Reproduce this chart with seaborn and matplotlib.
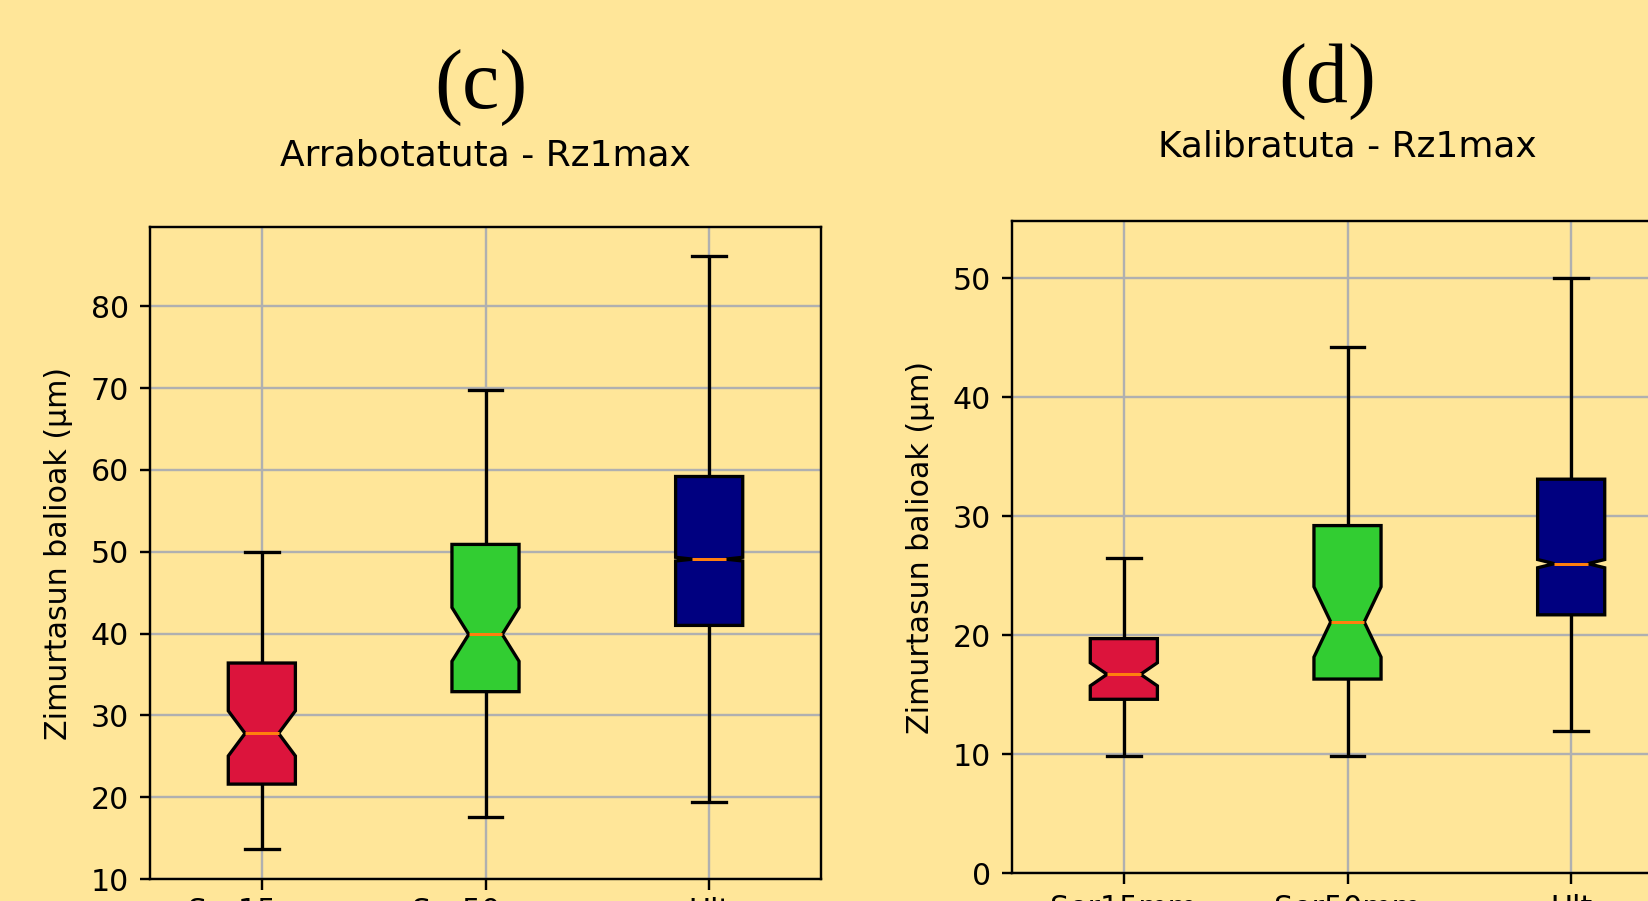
"""
Notched box plots of Rz1max roughness for the two surface states (c, d).
"""

import matplotlib
matplotlib.use("Agg")
import matplotlib.pyplot as plt
import pandas as pd
import seaborn as sns

# categories and colours
groups = ["Ser15mm", "Ser50mm", "Ult"]
box_colors = ["crimson", "limegreen", "navy"]

# (c) Arrabotatuta - Rz1max : five-number summary
arr_min = [13.7, 17.6, 19.4]
arr_q1 = [21.6, 32.9, 41.0]
arr_med = [27.8, 39.9, 49.1]
arr_q3 = [36.4, 50.9, 59.2]
arr_max = [50.0, 69.8, 86.2]
arr_n = [71, 74, 16001]   # sample sizes, from notch height

# (d) Kalibratuta - Rz1max
kal_min = [9.8, 9.8, 11.9]
kal_q1 = [14.6, 16.3, 21.7]
kal_med = [16.7, 21.1, 26.0]
kal_q3 = [19.7, 29.2, 33.1]
kal_max = [26.5, 44.2, 50.0]
kal_n = [68, 47, 2651]

BG = "#ffe699"


def expand(lo, q1, med, q3, hi, n):
    """Rebuild a sample whose quartiles/extremes match the read summary."""
    m = (n - 2) // 3
    return [lo] + [q1] * m + [med] * m + [q3] * m + [hi]


def make_frame(mins, q1s, meds, q3s, maxs, ns):
    rows = []
    for g, lo, a, b, c, hi, n in zip(groups, mins, q1s, meds, q3s, maxs, ns):
        for v in expand(lo, a, b, c, hi, n):
            rows.append((g, v))
    return pd.DataFrame(rows, columns=["group", "value"])


df_c = make_frame(arr_min, arr_q1, arr_med, arr_q3, arr_max, arr_n)
df_d = make_frame(kal_min, kal_q1, kal_med, kal_q3, kal_max, kal_n)

plt.rcParams["font.family"] = ["DejaVu Sans"]
plt.rcParams["axes.edgecolor"] = "black"

fig = plt.figure(figsize=(1648 / 216, 901 / 216), dpi=216, facecolor=BG)
ax_c = fig.add_axes([150 / 1648, 1 - 879 / 901, 671 / 1648, 652 / 901])
ax_d = fig.add_axes([1012 / 1648, 1 - 873 / 901, 671 / 1648, 652 / 901])


def draw_panel(ax, df, title, ylim, yticks, xpad, title_pad):
    ax.set_facecolor(BG)
    sns.boxplot(data=df, x="group", y="value", hue="group", order=groups,
                hue_order=groups, palette=box_colors, saturation=1, width=0.3,
                notch=True, whis=(0, 100), linecolor="black", linewidth=1.1,
                medianprops={"color": "#ff7f0e", "linewidth": 1},
                legend=False, ax=ax)
    ax.set_xlim(-0.5, 2.5)
    ax.set_ylim(*ylim)
    ax.set_yticks(yticks)
    ax.grid(True, color="#b0b0b0", linewidth=0.8)
    ax.set_axisbelow(True)
    ax.set_xlabel("")
    ax.set_ylabel("Zimurtasun balioak (µm)", fontsize=10, labelpad=6)
    ax.set_title(title, fontsize=12, pad=title_pad)
    ax.tick_params(axis="x", pad=xpad)
    for s in ax.spines.values():
        s.set_linewidth(0.8)


draw_panel(ax_c, df_c, "Arrabotatuta - Rz1max", (10, 89.7), range(10, 90, 10), 2.5, 20.5)
draw_panel(ax_d, df_d, "Kalibratuta - Rz1max", (0, 54.8), range(0, 60, 10), 3.5, 21.5)

fig.text(481 / 1648, 1 - 87 / 901, "(c)", family="Liberation Serif",
         fontsize=28, ha="center", va="center")
fig.text(1327 / 1648, 1 - 82 / 901, "(d)", family="Liberation Serif",
         fontsize=28, ha="center", va="center")

fig.savefig("out.png", dpi=216, facecolor=BG)
plt.close(fig)
